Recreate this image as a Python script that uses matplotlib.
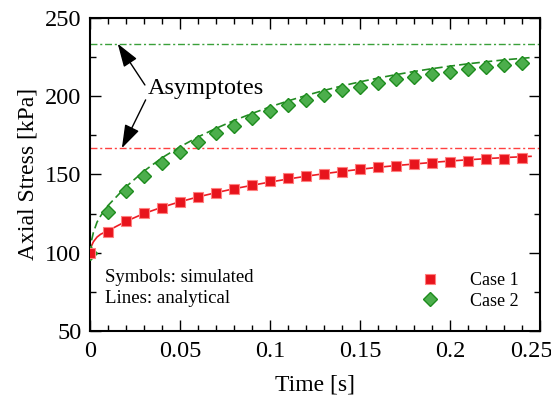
import matplotlib
matplotlib.use('Agg')
import matplotlib.pyplot as plt
from matplotlib.ticker import MultipleLocator
from matplotlib.transforms import ScaledTranslation

# simulated values (symbols)
t_sim = [0.0, 0.01, 0.02, 0.03, 0.04, 0.05, 0.06, 0.07, 0.08, 0.09, 0.10, 0.11, 0.12,
         0.13, 0.14, 0.15, 0.16, 0.17, 0.18, 0.19, 0.20, 0.21, 0.22, 0.23, 0.24]
case1_sim = [100, 113.5, 120, 125.3, 128.5, 132.3, 135.5, 138, 140.6, 142.9, 145.9, 147.5, 149,
             150.3, 151.8, 153.3, 154.4, 155.6, 156.5, 157.5, 158, 158.6, 159.7, 160.1, 160.7]
case2_sim = [100, 126.3, 139.5, 149, 157.5, 164, 170.9, 176.2, 180.9, 185.8, 190.6, 194.3, 197.5,
             200.6, 203.8, 205.9, 208.5, 210.6, 212.3, 214, 215.5, 217, 218.5, 219.7, 220.8]

# analytical values (lines)
t_ana = [0.0, 0.001, 0.002, 0.004, 0.006, 0.01, 0.02, 0.03, 0.04, 0.05, 0.06, 0.07, 0.08, 0.09,
         0.10, 0.11, 0.12, 0.13, 0.14, 0.15, 0.16, 0.17, 0.18, 0.19, 0.20, 0.21, 0.22, 0.23, 0.245]
case1_ana = [100, 104.5, 107, 110, 111.8, 114, 120, 125, 129, 132.5, 135.6, 138.3, 140.8, 143,
             145.1, 147, 148.8, 150.4, 151.9, 153.2, 154.5, 155.6, 156.6, 157.6, 158.5, 159.3, 160, 160.7, 161.5]
case2_ana = [100, 108, 113, 119.5, 123.5, 130, 142, 152, 160.5, 167.5, 173.8, 179.3, 184.3, 188.8,
             193, 196.8, 200.3, 203.5, 206.4, 209, 211.4, 213.6, 215.6, 217.4, 219, 220.5, 221.8, 223, 224.5]

asym1 = 166.7
asym2 = 233.3

xtick_labels = ['0', '0.05', '0.1', '0.15', '0.2', '0.25']

plt.rcParams['font.family'] = ['Liberation Serif', 'DejaVu Serif']

fig = plt.figure(figsize=(5.51, 3.99), dpi=100)
ax = fig.add_axes([0.163, 0.170, 0.817, 0.786])

ax.axhline(asym2, color='#3aa03a', lw=1.0, dashes=(5, 2, 1.5, 2), zorder=1)
ax.axhline(asym1, color='#ff4040', lw=1.0, dashes=(5, 2, 1.5, 2), zorder=1)

ax.plot(t_ana, case1_ana, color='#ee1c24', lw=1.2, ls='-', zorder=2)
ax.plot(t_ana, case2_ana, color='#228b22', lw=1.2, ls=(0, (5, 2.5)), zorder=2)

ax.plot(t_sim, case2_sim, ls='none', marker='D', ms=7, mfc='#4cae4c', mec='#1e8c1e', mew=1.0,
        label='Case 2', zorder=3)
ax.plot(t_sim, case1_sim, ls='none', marker='s', ms=6.5, mfc='#e8141c', mec='#ff8080', mew=0.8,
        label='Case 1', zorder=4)

ax.set_xlim(0, 0.25)
ax.set_ylim(50, 250)
ax.set_xticks([0, 0.05, 0.1, 0.15, 0.2, 0.25])
ax.set_xticklabels(xtick_labels)
ax.xaxis.set_minor_locator(MultipleLocator(0.01))
ax.yaxis.set_major_locator(MultipleLocator(50))
ax.yaxis.set_minor_locator(MultipleLocator(25))
ax.tick_params(which='both', direction='in', top=True, right=True, labelsize=17.5, width=1.0)
ax.tick_params(which='major', length=8)
ax.tick_params(which='minor', length=4)
ax.tick_params(axis='x', pad=7)
ax.tick_params(axis='y', pad=6)
for s in ax.spines.values():
    s.set_linewidth(1.5)

# last x label is pushed left so it stays inside the figure
last = ax.get_xticklabels()[-1]
last.set_transform(last.get_transform() + ScaledTranslation(-9 / 100, 0, fig.dpi_scale_trans))

ax.set_xlabel('Time [s]', fontsize=17, labelpad=9)
ax.set_ylabel('Axial Stress [kPa]', fontsize=17, labelpad=5)

ax.annotate('', xy=(0.0155, asym2), xytext=(0.0306, 207),
            arrowprops=dict(arrowstyle='-|>,head_length=0.9,head_width=0.3', color='black',
                            lw=1.0, mutation_scale=16, shrinkA=0, shrinkB=0))
ax.annotate('', xy=(0.0178, asym1), xytext=(0.031, 197.5),
            arrowprops=dict(arrowstyle='-|>,head_length=0.9,head_width=0.3', color='black',
                            lw=1.0, mutation_scale=16, shrinkA=0, shrinkB=0))
ax.text(0.032, 205, 'Asymptotes', fontsize=17.5, va='center', ha='left')

ax.text(0.0083, 84, 'Symbols: simulated', fontsize=13.5, va='center')
ax.text(0.0083, 70.7, 'Lines: analytical', fontsize=13.5, va='center')

handles, labels = ax.get_legend_handles_labels()
ax.legend(handles[::-1], labels[::-1], loc='lower right', frameon=False, fontsize=13,
          handletextpad=1.2, borderaxespad=0.8, labelspacing=0.2)

fig.savefig('out.png', dpi=100)
